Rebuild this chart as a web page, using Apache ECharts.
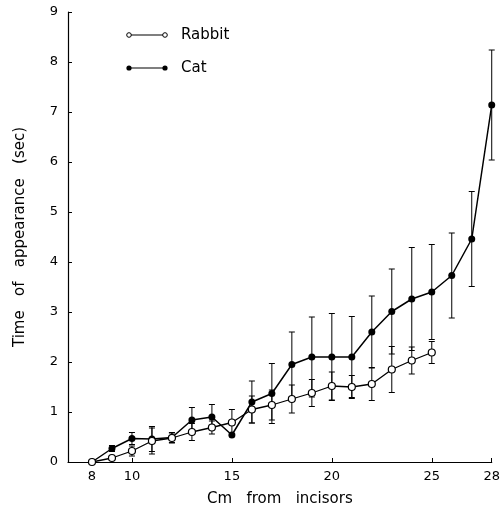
<!DOCTYPE html>
<html>
<head>
<meta charset="utf-8">
<script src="https://cdn.jsdelivr.net/npm/echarts@6/dist/echarts.min.js"></script>
<style>html,body{margin:0;padding:0;background:#fff}#c{width:503px;height:514px}</style>
</head>
<body>
<div id="c"></div>
<script>
const rabbitX = [8, 9, 10, 11, 12, 13, 14, 15, 16, 17, 18, 19, 20, 21, 22, 23, 24, 25];
const rabbitY = [0, 0.08, 0.22, 0.42, 0.48, 0.6, 0.69, 0.79, 1.05, 1.14, 1.26, 1.38, 1.52, 1.5, 1.56, 1.85, 2.03, 2.19];
const rabbitErr = [0, 0.04, 0.1, 0.26, 0.1, 0.17, 0.13, 0.26, 0.27, 0.3, 0.28, 0.27, 0.28, 0.23, 0.33, 0.46, 0.27, 0.22];
const catX = [8, 9, 10, 11, 12, 13, 14, 15, 16, 17, 18, 19, 20, 21, 22, 23, 24, 25, 26, 27, 28];
const catY = [0, 0.27, 0.47, 0.46, 0.49, 0.84, 0.9, 0.54, 1.2, 1.37, 1.95, 2.1, 2.1, 2.1, 2.6, 3.01, 3.26, 3.4, 3.73, 4.46, 7.14];
const catErr = [0, 0.06, 0.12, 0.25, 0.1, 0.25, 0.25, 0, 0.42, 0.6, 0.65, 0.8, 0.87, 0.81, 0.72, 0.85, 1.03, 0.95, 0.85, 0.95, 1.1];
const xTickValues = [8, 10, 15, 20, 25, 28];
const yTickValues = [0, 1, 2, 3, 4, 5, 6, 7, 8, 9];

const FONT = 'DejaVu Sans';

function errData(xs, ys, es) {
  const out = [];
  for (let i = 0; i < xs.length; i++) {
    if (es[i] > 0) out.push([xs[i], ys[i] - es[i], ys[i] + es[i]]);
  }
  return out;
}
function renderErr(params, api) {
  const x = api.value(0);
  const lo = api.coord([x, api.value(1)]);
  const hi = api.coord([x, api.value(2)]);
  const w = 3;
  const st = { stroke: '#000', lineWidth: 1 };
  return {
    type: 'group',
    children: [
      { type: 'line', shape: { x1: lo[0], y1: lo[1], x2: hi[0], y2: hi[1] }, style: st },
      { type: 'line', shape: { x1: lo[0] - w, y1: lo[1], x2: lo[0] + w, y2: lo[1] }, style: st },
      { type: 'line', shape: { x1: hi[0] - w, y1: hi[1], x2: hi[0] + w, y2: hi[1] }, style: st }
    ]
  };
}

const catData = catX.map((x, i) => i === 0 ? { value: [x, catY[i]], symbol: 'none' } : [x, catY[i]]);
const rabbitData = rabbitX.map((x, i) => [x, rabbitY[i]]);

const chart = echarts.init(document.getElementById('c'), null, { renderer: 'canvas' });
chart.setOption({
  animation: false,
  backgroundColor: '#fff',
  grid: { left: 68, right: 11, top: 12, bottom: 52, containLabel: false },
  xAxis: {
    type: 'value', min: 6.8, max: 28,
    axisLine: { lineStyle: { color: '#000', width: 1.2 } },
    axisTick: { inside: true, length: 4, customValues: xTickValues, lineStyle: { color: '#000' } },
    axisLabel: { customValues: xTickValues, color: '#000', fontFamily: FONT, fontSize: 13, margin: 8 },
    splitLine: { show: false },
    name: 'Cm   from   incisors', nameLocation: 'middle', nameGap: 30,
    nameTextStyle: { color: '#000', fontFamily: FONT, fontSize: 15 }
  },
  yAxis: {
    type: 'value', min: 0, max: 9, interval: 1,
    axisLine: { show: true, lineStyle: { color: '#000', width: 1.2 } },
    axisTick: { show: true, inside: true, length: 4, lineStyle: { color: '#000' } },
    axisLabel: { color: '#000', fontFamily: FONT, fontSize: 13, margin: 10 },
    splitLine: { show: false },
    name: 'Time   of   appearance   (sec)', nameLocation: 'middle', nameGap: 40, nameRotate: 90,
    nameTextStyle: { color: '#000', fontFamily: FONT, fontSize: 15 }
  },
  graphic: [
    { type: 'line', shape: { x1: 129, y1: 35, x2: 165, y2: 35 }, style: { stroke: '#000', lineWidth: 1.2 } },
    { type: 'circle', shape: { cx: 129, cy: 35, r: 2.3 }, style: { fill: '#fff', stroke: '#000', lineWidth: 1 } },
    { type: 'circle', shape: { cx: 165, cy: 35, r: 2.3 }, style: { fill: '#fff', stroke: '#000', lineWidth: 1 } },
    { type: 'text', x: 181, y: 35, style: { text: 'Rabbit', fill: '#000', font: '500 15px "DejaVu Sans"', verticalAlign: 'middle' } },
    { type: 'line', shape: { x1: 129, y1: 68, x2: 165, y2: 68 }, style: { stroke: '#000', lineWidth: 1.2 } },
    { type: 'circle', shape: { cx: 129, cy: 68, r: 2.6 }, style: { fill: '#000' } },
    { type: 'circle', shape: { cx: 165, cy: 68, r: 2.6 }, style: { fill: '#000' } },
    { type: 'text', x: 181, y: 68, style: { text: 'Cat', fill: '#000', font: '500 15px "DejaVu Sans"', verticalAlign: 'middle' } }
  ],
  series: [
    { type: 'custom', renderItem: renderErr, data: errData(catX, catY, catErr), z: 1, silent: true },
    { type: 'custom', renderItem: renderErr, data: errData(rabbitX, rabbitY, rabbitErr), z: 1, silent: true },
    {
      name: 'Cat', type: 'line', data: catData, z: 3,
      symbol: 'circle', symbolSize: 7, showAllSymbol: true,
      lineStyle: { color: '#000', width: 1.5 },
      itemStyle: { color: '#000', borderColor: '#000', borderWidth: 0 }
    },
    {
      name: 'Rabbit', type: 'line', data: rabbitData, z: 4,
      symbol: 'circle', symbolSize: 7, showAllSymbol: true,
      lineStyle: { color: '#000', width: 1.3 },
      itemStyle: { color: '#fff', borderColor: '#000', borderWidth: 1.2 }
    }
  ]
});
</script>
</body>
</html>
